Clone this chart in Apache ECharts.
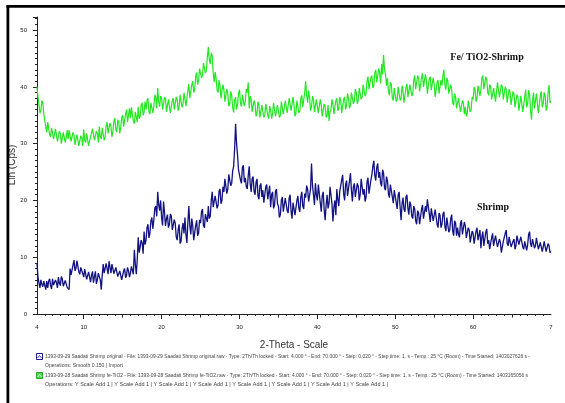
<!DOCTYPE html>
<html>
<head>
<meta charset="utf-8">
<title>XRD – Shrimp vs Fe/TiO2-Shrimp</title>
<script src="https://cdn.jsdelivr.net/npm/echarts@6/dist/echarts.min.js"></script>
<style>
  html, body { margin: 0; padding: 0; background: #ffffff; }
  #chart { width: 565px; height: 403px; }
</style>
</head>
<body>
<div id="chart"></div>
<script>
// 2-Theta scan grid (degrees)
const scanStart = 4;
const scanStep = 0.125;

// Intensity, Lin (Cps) – Shrimp (one row per degree, 4° … 70°)
const shrimp = [
  9.0, 6.5, 5.5, 4.6, 6.0, 5.2, 4.8, 5.8,
  5.5, 4.3, 5.8, 4.6, 5.8, 6.2, 5.0, 4.4,
  6.2, 5.1, 4.8, 6.0, 5.5, 4.6, 6.5, 5.4,
  5.0, 6.6, 6.2, 4.9, 4.6, 5.9, 5.8, 4.7,
  5.0, 4.3, 8.0, 6.9, 7.2, 8.6, 9.5, 7.6,
  8.0, 9.4, 9.2, 7.4, 7.0, 8.2, 8.5, 7.1,
  6.5, 7.9, 7.8, 6.1, 6.0, 7.4, 7.2, 5.6,
  6.8, 7.5, 5.5, 6.6, 7.5, 5.3, 6.0, 7.2,
  7.4, 6.0, 4.3, 6.8, 8.8, 7.2, 7.5, 8.9,
  8.0, 7.0, 9.3, 8.2, 7.2, 8.8, 8.6, 7.1,
  7.0, 8.2, 8.5, 6.6, 6.5, 7.6, 7.8, 6.0,
  6.2, 7.6, 8.0, 6.4, 6.8, 8.2, 7.6, 6.5,
  7.2, 8.4, 8.6, 7.0, 11.3, 8.8, 7.0, 9.6,
  13.5, 10.8, 11.0, 13.0, 12.5, 10.6, 14.5, 12.2,
  13.0, 15.2, 15.8, 13.4, 14.2, 16.4, 17.0, 15.0,
  16.5, 18.6, 19.0, 17.2, 21.5, 19.2, 18.2, 20.0,
  17.0, 15.6, 19.8, 17.8, 15.5, 16.8, 17.5, 15.2,
  15.8, 17.6, 17.2, 14.8, 14.5, 16.6, 16.0, 13.6,
  13.0, 14.8, 15.8, 12.4, 12.8, 15.0, 16.0, 14.2,
  17.0, 14.0, 12.5, 16.2, 19.0, 15.5, 14.0, 16.8,
  15.5, 13.0, 13.0, 15.6, 16.5, 13.8, 14.2, 16.6,
  16.0, 18.0, 18.5, 15.6, 15.2, 17.6, 17.8, 16.2,
  19.0, 16.8, 17.2, 20.0, 21.5, 18.8, 18.5, 20.8,
  20.5, 18.6, 19.2, 21.6, 22.0, 19.4, 20.0, 22.4,
  21.5, 23.8, 23.5, 21.2, 22.0, 24.6, 24.8, 22.6,
  23.0, 25.2, 26.0, 29.0, 33.5, 30.0, 28.0, 25.4,
  25.5, 23.6, 23.0, 25.8, 26.2, 23.2, 24.0, 22.4,
  22.0, 24.4, 26.0, 23.0, 21.5, 23.8, 24.2, 21.6,
  21.0, 23.2, 23.8, 20.8, 20.2, 22.6, 23.0, 20.6,
  21.8, 19.6, 19.5, 22.4, 22.8, 20.2, 20.5, 22.6,
  18.8, 21.0, 21.5, 18.6, 19.2, 21.6, 22.0, 19.4,
  19.0, 17.0, 17.5, 20.0, 20.6, 18.0, 18.2, 20.4,
  20.5, 18.2, 17.8, 20.4, 21.0, 18.0, 16.8, 19.6,
  19.5, 17.4, 17.2, 20.0, 20.8, 18.6, 18.0, 20.6,
  21.5, 19.0, 18.5, 21.2, 20.5, 22.6, 22.0, 19.8,
  19.5, 22.0, 26.5, 22.6, 21.0, 19.2, 23.0, 21.0,
  20.0, 22.8, 22.5, 19.6, 18.0, 20.8, 21.5, 18.4,
  16.5, 19.2, 21.0, 18.6, 19.5, 22.4, 22.5, 19.4,
  16.3, 18.8, 20.0, 17.4, 22.0, 20.2, 19.0, 21.6,
  21.5, 23.6, 24.5, 21.2, 20.0, 22.8, 23.5, 20.8,
  21.0, 23.4, 24.8, 21.8, 19.8, 22.4, 23.0, 20.6,
  20.5, 23.0, 22.5, 20.0, 21.0, 23.8, 23.5, 21.0,
  22.0, 19.8, 20.5, 23.2, 24.0, 21.2, 21.5, 23.6,
  24.5, 26.0, 27.0, 24.4, 23.5, 25.8, 26.5, 24.0,
  25.0, 23.0, 22.5, 25.4, 24.8, 22.2, 21.8, 24.2,
  23.5, 21.2, 20.5, 22.8, 23.0, 20.6, 19.5, 21.8,
  22.0, 19.6, 18.5, 21.0, 21.5, 18.8, 16.5, 19.4,
  20.5, 18.4, 18.0, 20.6, 21.0, 18.6, 17.5, 19.8,
  19.2, 17.2, 16.8, 19.0, 18.5, 16.4, 15.8, 18.2,
  17.8, 15.8, 16.0, 18.4, 19.2, 16.8, 17.0, 19.0,
  18.0, 20.2, 20.0, 17.6, 16.2, 18.6, 18.8, 16.4,
  16.5, 18.4, 18.2, 15.8, 15.2, 17.8, 17.4, 15.2,
  15.8, 17.6, 18.0, 15.4, 14.6, 17.0, 16.8, 14.4,
  14.8, 16.8, 17.5, 14.6, 13.8, 16.4, 16.0, 13.8,
  15.2, 14.0, 13.5, 16.0, 16.5, 14.0, 14.2, 16.2,
  15.5, 13.4, 13.2, 15.2, 14.8, 12.6, 12.5, 14.6,
  14.2, 12.4, 12.2, 14.6, 15.2, 13.0, 12.8, 14.8,
  11.6, 13.6, 14.5, 12.0, 12.2, 14.4, 15.0, 12.4,
  13.0, 11.4, 11.2, 13.4, 14.2, 12.0, 12.0, 13.8,
  13.5, 11.8, 11.6, 13.2, 12.6, 10.8, 11.0, 12.8,
  12.8, 14.2, 14.8, 12.4, 12.0, 13.6, 13.5, 11.8,
  11.5, 12.8, 13.2, 11.4, 12.0, 13.8, 14.0, 12.2,
  12.5, 13.6, 13.8, 11.8, 11.4, 12.8, 13.0, 11.2,
  12.2, 14.0, 14.5, 12.4, 11.8, 13.2, 13.5, 11.6,
  12.0, 13.4, 13.2, 11.4, 11.2, 12.6, 12.8, 11.0,
  11.8, 12.8, 12.5, 11.0, 11.0, 12.4, 12.0, 10.8,
  11.0
];

// Intensity, Lin (Cps) – Fe/TiO2-Shrimp (one row per degree, 4° … 70°)
const feTiO2Shrimp = [
  40.0, 38.2, 37.0, 35.4, 35.8, 37.6, 37.2, 35.2,
  35.0, 33.0, 32.0, 33.8, 33.5, 31.6, 31.2, 32.8,
  32.8, 30.8, 31.0, 32.6, 32.5, 30.4, 30.5, 32.2,
  31.8, 30.0, 30.2, 32.0, 32.0, 30.2, 31.0, 32.4,
  30.8, 32.4, 32.2, 30.4, 30.5, 32.0, 31.5, 29.8,
  30.0, 31.6, 31.8, 29.6, 29.8, 31.4, 31.0, 29.6,
  32.5, 30.6, 30.2, 31.8, 31.5, 29.6, 29.5, 31.2,
  31.0, 32.6, 32.8, 30.6, 30.5, 32.2, 31.8, 30.2,
  33.0, 31.2, 30.8, 32.8, 32.5, 30.6, 31.2, 33.2,
  33.8, 31.8, 31.5, 33.6, 33.0, 31.2, 32.2, 34.0,
  34.5, 32.4, 32.0, 34.2, 33.8, 31.8, 32.8, 34.6,
  35.0, 33.0, 33.2, 35.2, 36.0, 33.8, 34.0, 36.2,
  34.5, 36.4, 36.2, 34.0, 33.5, 35.6, 35.8, 33.8,
  36.5, 34.4, 34.8, 36.8, 37.2, 35.0, 35.5, 37.4,
  36.0, 37.6, 38.0, 35.6, 35.2, 37.2, 37.5, 35.4,
  36.5, 38.6, 38.2, 36.2, 39.8, 37.4, 36.5, 38.4,
  38.0, 36.0, 36.2, 38.2, 37.8, 35.6, 35.8, 37.8,
  37.5, 35.4, 35.5, 37.6, 38.0, 36.0, 36.2, 38.2,
  37.8, 35.8, 36.5, 38.6, 38.5, 36.4, 37.0, 39.0,
  38.8, 36.6, 36.8, 39.4, 40.5, 38.0, 38.2, 40.4,
  41.0, 39.0, 39.5, 41.8, 42.5, 40.4, 41.2, 43.2,
  43.5, 41.6, 42.0, 44.2, 44.5, 42.4, 43.0, 45.2,
  47.0, 44.8, 44.0, 46.0, 45.5, 42.4, 40.8, 42.6,
  41.5, 39.4, 39.0, 41.2, 40.2, 38.0, 38.2, 40.4,
  39.5, 37.4, 37.5, 39.6, 38.8, 36.6, 37.0, 39.2,
  38.5, 36.4, 35.5, 37.6, 38.2, 36.0, 36.8, 38.8,
  39.5, 37.2, 36.5, 38.6, 38.8, 36.6, 37.5, 39.6,
  39.0, 40.8, 36.2, 38.4, 37.8, 35.6, 35.5, 37.6,
  37.0, 34.8, 35.2, 37.4, 36.8, 34.6, 34.8, 36.8,
  36.5, 34.6, 35.0, 37.0, 37.2, 35.0, 34.4, 36.6,
  36.0, 34.4, 35.2, 37.2, 37.0, 34.8, 34.8, 36.8,
  36.5, 34.6, 35.0, 37.4, 37.2, 35.2, 35.5, 37.6,
  37.8, 35.4, 35.5, 38.0, 38.0, 35.8, 36.0, 38.2,
  36.8, 34.8, 35.4, 37.6, 37.5, 35.4, 35.8, 38.0,
  38.5, 36.4, 36.6, 39.0, 41.0, 38.4, 37.2, 39.4,
  38.0, 35.8, 36.5, 38.4, 37.8, 35.6, 35.8, 37.8,
  37.5, 35.4, 35.7, 37.8, 36.8, 34.8, 35.0, 37.0,
  36.5, 34.6, 35.0, 36.8, 34.0, 35.6, 36.0, 37.8,
  37.0, 35.2, 35.5, 37.6, 38.0, 35.8, 36.2, 38.2,
  37.5, 35.4, 35.6, 37.8, 38.2, 36.0, 36.8, 38.8,
  38.0, 36.2, 36.8, 39.0, 39.2, 37.0, 37.5, 39.6,
  39.0, 37.0, 37.6, 39.8, 40.0, 37.8, 38.2, 40.4,
  40.5, 38.4, 38.8, 41.0, 41.8, 39.6, 39.5, 41.6,
  42.0, 39.8, 40.2, 42.4, 43.0, 40.8, 41.0, 43.2,
  42.5, 40.6, 44.0, 42.2, 45.6, 43.0, 42.2, 40.2,
  41.5, 39.2, 38.5, 40.8, 40.4, 38.0, 37.6, 39.8,
  39.5, 37.4, 37.8, 40.0, 40.0, 37.6, 38.0, 40.2,
  39.2, 37.2, 37.5, 39.8, 40.5, 38.2, 38.2, 40.4,
  40.5, 38.4, 38.8, 41.2, 42.0, 39.6, 39.8, 42.0,
  41.5, 39.2, 39.2, 41.6, 42.4, 40.0, 40.0, 42.2,
  41.2, 38.8, 39.0, 41.4, 41.8, 39.4, 39.5, 41.6,
  40.5, 38.2, 38.5, 40.8, 41.2, 38.8, 39.0, 41.2,
  40.2, 42.0, 43.0, 40.4, 39.5, 41.6, 41.0, 38.8,
  38.5, 40.4, 39.5, 37.2, 36.8, 38.8, 38.2, 36.2,
  36.0, 38.0, 37.8, 35.6, 35.6, 37.6, 37.2, 35.2,
  36.5, 34.8, 35.4, 37.6, 37.8, 35.6, 36.0, 38.2,
  37.8, 40.0, 39.5, 37.4, 38.0, 40.2, 40.5, 38.4,
  39.5, 41.6, 42.0, 39.6, 39.8, 41.8, 41.2, 39.0,
  38.5, 40.4, 40.0, 37.8, 37.8, 39.8, 39.5, 37.4,
  39.0, 40.8, 40.5, 38.2, 38.5, 40.4, 40.0, 37.8,
  38.0, 40.0, 39.5, 37.2, 37.4, 39.6, 39.0, 36.8,
  37.0, 39.2, 38.8, 36.4, 36.5, 38.6, 38.2, 35.8,
  36.0, 38.4, 38.5, 35.6, 35.5, 38.2, 39.5, 36.4,
  37.0, 39.4, 38.8, 35.8, 34.2, 37.4, 39.0, 36.2,
  36.5, 38.8, 38.5, 35.4, 35.6, 38.4, 39.2, 36.4,
  37.0, 39.0, 38.5, 35.8, 36.5, 39.0, 40.3, 37.2,
  37.5
];

// Axis labels and ticks
const xLabelValues = [4, 10, 20, 30, 40, 50, 60, 70];
const xLabelText = ['4', '10', '20', '30', '40', '50', '60', '7'];
const xMajorTicks = [10, 20, 30, 40, 50, 60];
const xMidTicks = [15, 25, 35, 45, 55, 65];
const xMinorTicks = [5, 6, 7, 8, 9, 11, 12, 13, 14, 16, 17, 18, 19, 21, 22, 23, 24,
  26, 27, 28, 29, 31, 32, 33, 34, 36, 37, 38, 39, 41, 42, 43, 44, 46, 47, 48, 49,
  51, 52, 53, 54, 56, 57, 58, 59, 61, 62, 63, 64, 66, 67, 68, 69];

const legendLines = [
  '1393-09-29 Saadati Shrimp original - File: 1393-09-29 Saadati Shrimp original.raw - Type: 2Th/Th locked - Start: 4.000 ° - End: 70.000 ° - Step: 0.020 ° - Step time: 1. s - Temp.: 25 °C (Room) - Time Started: 1403027626 s -',
  'Operations: Smooth 0.150 | Import',
  '1393-09-28 Saadati Shrimp fe-TiO2 - File: 1393-09-28 Saadati Shrimp fe-TiO2.raw - Type: 2Th/Th locked - Start: 4.000 ° - End: 70.000 ° - Step: 0.020 ° - Step time: 1. s - Temp.: 25 °C (Room) - Time Started: 1403165056 s',
  'Operations: Y Scale Add 1 | Y Scale Add 1 | Y Scale Add 1 | Y Scale Add 1 | Y Scale Add 1 | Y Scale Add 1 | Y Scale Add 1 | Y Scale Add 1 |'
];
// Printed width (px) of each scan-info line
const legendWidths = [485, 78, 483, 343];

const toPairs = arr => arr.map((v, i) => [+(scanStart + i * scanStep).toFixed(3), v]);

const chart = echarts.init(document.getElementById('chart'), null, { renderer: 'canvas' });

const tickFont = { fontFamily: 'Liberation Sans, Arial, sans-serif', fontSize: 6, color: '#222' };
const hiddenAxisBase = {
  type: 'value', min: 4, max: 70, position: 'bottom',
  axisLine: { show: false }, axisLabel: { show: false }, splitLine: { show: false }
};
const legendFont = '5.2px Liberation Sans, Arial, sans-serif';

// stretch each scan-info line to its printed width
const measureCtx = document.createElement('canvas').getContext('2d');
measureCtx.font = legendFont;
const legendRows = [357, 366, 376, 385];
const legendTexts = legendLines.map((t, i) => {
  const w = measureCtx.measureText(t).width || 1;
  return {
    type: 'text', x: 45, y: legendRows[i], scaleX: legendWidths[i] / w, originX: 0,
    style: { text: t, fill: '#444', verticalAlign: 'middle', font: legendFont }
  };
});

chart.setOption({
  animation: false,
  backgroundColor: '#ffffff',
  grid: { left: 37, right: 14, top: 17, bottom: 89, containLabel: false },
  xAxis: [
    {
      type: 'value', min: 4, max: 70, position: 'bottom',
      name: '2-Theta - Scale', nameLocation: 'middle', nameGap: 26,
      nameTextStyle: { fontFamily: 'Liberation Sans, Arial, sans-serif', fontSize: 10, color: '#333' },
      axisLine: { show: true, lineStyle: { color: '#222', width: 1 } },
      axisTick: { show: true, customValues: xMajorTicks, length: 5, lineStyle: { color: '#222' } },
      axisLabel: {
        show: true, customValues: xLabelValues, margin: 10,
        formatter: v => xLabelText[xLabelValues.indexOf(v)] ?? '',
        ...tickFont
      },
      splitLine: { show: false }
    },
    Object.assign({}, hiddenAxisBase, {
      axisTick: { show: true, customValues: xMidTicks, length: 3.5, lineStyle: { color: '#222' } }
    }),
    Object.assign({}, hiddenAxisBase, {
      axisTick: { show: true, customValues: xMinorTicks, length: 2, lineStyle: { color: '#222' } }
    })
  ],
  yAxis: {
    type: 'value', min: 0, max: 52.3, interval: 10,
    axisLine: { show: true, lineStyle: { color: '#222', width: 1 } },
    axisTick: { show: true, length: 4, lineStyle: { color: '#222' } },
    minorTick: { show: true, splitNumber: 10, length: 2, lineStyle: { color: '#222' } },
    axisLabel: {
      margin: 10, showMaxLabel: true,
      formatter: v => (v % 10 === 0 ? String(v) : ''),
      ...tickFont
    },
    splitLine: { show: false }
  },
  series: [
    {
      name: 'Fe/ TiO2-Shrimp', type: 'line', xAxisIndex: 0,
      data: toPairs(feTiO2Shrimp), showSymbol: false, smooth: false,
      lineStyle: { color: '#22e622', width: 1.2 }, z: 2
    },
    {
      name: 'Shrimp', type: 'line', xAxisIndex: 0,
      data: toPairs(shrimp), showSymbol: false, smooth: false,
      lineStyle: { color: '#121282', width: 1.3 }, z: 3
    }
  ],
  graphic: [
    // y axis title
    {
      type: 'text', x: 12, y: 165, rotation: Math.PI / 2,
      style: {
        text: 'Lin (Cps)', fill: '#333', align: 'center', verticalAlign: 'middle',
        font: '10px Liberation Sans, Arial, sans-serif'
      }
    },
    // frame
    { type: 'rect', shape: { x: 6.5, y: 5, width: 2.8, height: 398 }, style: { fill: '#000' }, z: 100 },
    { type: 'rect', shape: { x: 6.5, y: 5, width: 558.5, height: 2.8 }, style: { fill: '#000' }, z: 100 },
    // curve annotations
    {
      type: 'text', x: 487, y: 57,
      style: { text: 'Fe/ TiO2-Shrimp', fill: '#111', align: 'center', verticalAlign: 'middle',
        font: 'bold 10px Liberation Serif, Times New Roman, serif' }
    },
    {
      type: 'text', x: 493, y: 207,
      style: { text: 'Shrimp', fill: '#111', align: 'center', verticalAlign: 'middle',
        font: 'bold 10px Liberation Serif, Times New Roman, serif' }
    },
    // scan legend icons
    { type: 'rect', shape: { x: 36.5, y: 353.5, width: 6, height: 6 }, style: { fill: '#fff', stroke: '#1a1a8a', lineWidth: 1 } },
    { type: 'polyline', shape: { points: [[37.5, 358], [39.5, 355.5], [41.5, 358]] }, style: { fill: 'none', stroke: '#1a1a8a', lineWidth: 0.8 } },
    { type: 'rect', shape: { x: 36.5, y: 372.5, width: 6, height: 6 }, style: { fill: '#44dd44', stroke: '#22aa22', lineWidth: 1 } },
    { type: 'polyline', shape: { points: [[37.5, 377], [39.5, 374.5], [41.5, 377]] }, style: { fill: 'none', stroke: '#ffffff', lineWidth: 0.8 } }
  ].concat(legendTexts)
});
</script>
</body>
</html>
